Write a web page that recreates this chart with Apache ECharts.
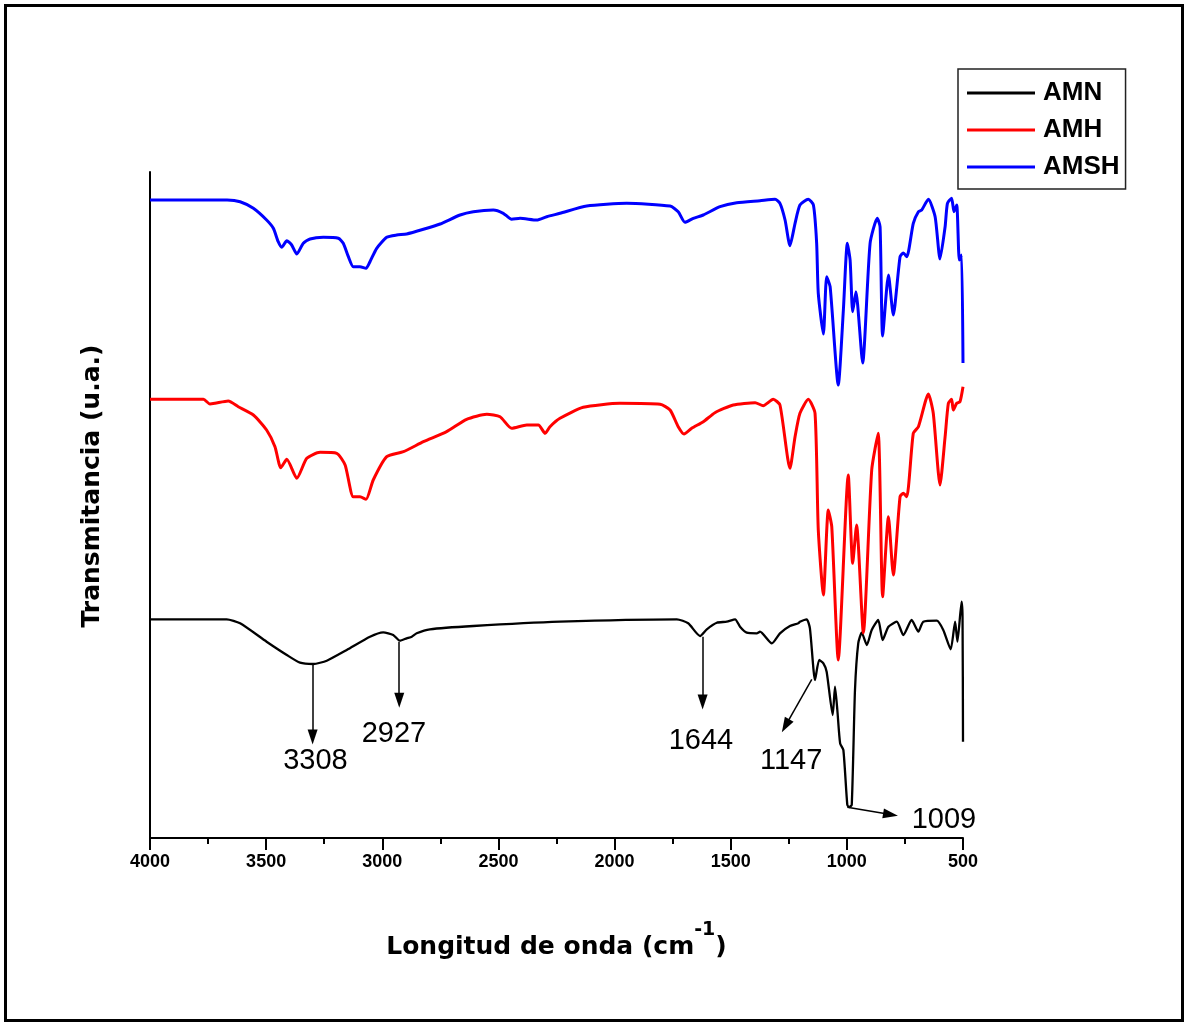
<!DOCTYPE html>
<html>
<head>
<meta charset="utf-8">
<script src="https://cdn.jsdelivr.net/npm/echarts@6.0.0/dist/echarts.min.js"></script>
<style>
  html, body { margin: 0; padding: 0; background: #fff; }
  #chart { width: 1188px; height: 1026px; }
</style>
</head>
<body>
<div id="chart"></div>
<script>
// ticks of the wavenumber axis (cm-1)
const xTicks = [500, 1000, 1500, 2000, 2500, 3000, 3500, 4000];
const seriesNames = ['AMN', 'AMH', 'AMSH'];

// spectra: [wavenumber, transmittance (arbitrary units, offset per sample)]
const amn = [
  [4000, 218.7], [3670, 218.7], [3612, 214.7], [3498, 196.3], [3411, 183], [3354, 175.3],
  [3297, 174], [3239, 177.3], [3153, 188], [3053, 201.3], [2996, 205.7], [2953, 203],
  [2924, 197.3], [2895, 199.7], [2873, 201.3], [2852, 204.7], [2795, 208.7], [2608, 212],
  [2235, 216.3], [1732, 218.7], [1683, 214.7], [1632, 202], [1603, 208.7], [1560, 215.3],
  [1517, 216.3], [1481, 218.7], [1460, 211.3], [1431, 205.3], [1388, 204.7], [1374, 206.3],
  [1323, 194.7], [1288, 204.7], [1245, 212], [1209, 214.7], [1202, 216.3], [1173, 218.7],
  [1159, 209.7], [1137, 158], [1119, 178], [1101, 174.7], [1087, 166.3], [1061, 123],
  [1051, 151.3], [1041, 128], [1029, 94.7], [1015, 88], [998, 33], [990, 31], [979, 33],
  [965, 148], [951, 194.7], [936, 205.3], [914, 193], [893, 208], [865, 218], [846, 198],
  [821, 211.3], [785, 216.3], [757, 203], [721, 218], [692, 206.3], [671, 216.3],
  [613, 217.3], [585, 208], [553, 188.7], [534, 216.3], [524, 196.3], [506, 236.3],
  [502, 221.3], [500, 96.3]
];
const amh = [
  [4000, 438.7], [3770, 438.7], [3742, 434], [3720, 434.7], [3663, 437], [3620, 431.3],
  [3555, 423], [3498, 408], [3462, 391.3], [3437, 370.3], [3411, 378.7], [3368, 359.7],
  [3325, 379.7], [3268, 385.7], [3196, 384.7], [3160, 373], [3125, 341.3], [3096, 341.3],
  [3070, 338.7], [3039, 358], [2981, 381.3], [2909, 386.3], [2823, 396.3], [2723, 406.3],
  [2637, 418.7], [2550, 423.7], [2493, 421.3], [2443, 409.7], [2378, 413], [2328, 413],
  [2299, 404.7], [2278, 411.3], [2235, 419.7], [2135, 430.7], [1977, 434.7], [1804, 433.7],
  [1761, 428], [1726, 411.3], [1701, 404], [1668, 409.7], [1618, 416.3], [1568, 425.3],
  [1489, 433], [1395, 435.3], [1360, 432.3], [1317, 438.7], [1288, 433], [1245, 369.7],
  [1223, 401.3], [1202, 424.7], [1166, 438.7], [1137, 424.7], [1123, 308], [1101, 243],
  [1080, 328], [1065, 311.3], [1037, 178], [994, 363], [975, 274.7], [958, 313], [929, 205],
  [893, 368], [865, 404.7], [846, 241.3], [821, 321.3], [800, 263], [771, 341.3],
  [757, 344.7], [742, 341.3], [714, 404.7], [692, 411.3], [649, 444], [628, 424.7],
  [599, 353], [577, 401.3], [563, 434.7], [549, 438.7], [542, 428], [527, 434.7],
  [513, 436.3], [500, 451.3]
];
const amsh = [
  [4000, 638], [3668, 638], [3612, 636.3], [3555, 629.7], [3498, 618], [3469, 609.7],
  [3448, 596.3], [3433, 590.7], [3411, 597.3], [3390, 593], [3368, 584], [3340, 594.7],
  [3311, 599], [3254, 600.7], [3189, 599.7], [3168, 594.7], [3146, 581.3], [3125, 571.3],
  [3096, 571.3], [3070, 569.7], [3053, 576.3], [3024, 589.7], [2981, 600.7], [2938, 603],
  [2895, 604], [2823, 608.7], [2751, 614], [2665, 623], [2608, 626.3], [2522, 628],
  [2479, 624.7], [2443, 618.7], [2407, 619.7], [2335, 618], [2292, 621.3], [2235, 624.7],
  [2120, 632], [1948, 634.7], [1761, 632], [1726, 626.3], [1697, 615.7], [1661, 619.7],
  [1618, 623], [1546, 631.3], [1474, 635.3], [1374, 637.3], [1309, 638.7], [1288, 634.7],
  [1266, 618], [1245, 592.3], [1223, 614.7], [1202, 633], [1166, 638.7], [1144, 633],
  [1130, 594.7], [1123, 544.7], [1101, 504], [1087, 561.3], [1072, 551.3], [1037, 453],
  [1015, 528], [998, 594.7], [986, 578], [975, 526.3], [961, 546.3], [932, 475],
  [900, 594.7], [869, 619.7], [857, 611.3], [846, 502], [821, 563], [800, 523],
  [771, 581.3], [757, 585], [742, 581.3], [714, 614.7], [692, 626.3], [678, 628],
  [649, 638.7], [620, 621.3], [599, 579], [577, 611.3], [567, 634.7], [549, 639.7],
  [539, 626.3], [527, 633], [516, 578], [506, 583], [500, 475]
];

// band labels on the AMN spectrum
const peakLabels = ['3308', '2927', '1644', '1147', '1009'];
const peakFrom = [[3300, 173], [2927, 196.3], [1621, 201.3], [1151, 158.7], [998, 30.7]];
const peakTo = [[3300, 101], [2927, 137.7], [1621, 136], [1264, 112.3], [812, 23.4]];
const peakText = [[3288, 77], [2950, 104], [1628, 97], [1240, 77], [582, 18]];

const colors = ['#000000', '#ff0000', '#0000ff'];
const spectra = [amn, amh, amsh];

let myChart = echarts.init(document.getElementById('chart'));

const series = spectra.map(function (d, i) {
  return {
    name: seriesNames[i],
    type: 'line',
    data: d,
    showSymbol: false,
    smooth: 0.2,
    lineStyle: { color: colors[i], width: i === 0 ? 2.3 : 3 },
    itemStyle: { color: colors[i] },
    z: 2 + i
  };
});

// arrows and numbers go on the AMN curve
series[0].markLine = {
  silent: true,
  symbol: ['none', 'triangle'],
  symbolSize: [10, 15],
  lineStyle: { color: '#000', width: 1.5, type: 'solid' },
  label: { show: false },
  data: peakFrom.map(function (f, i) {
    return [{ coord: f }, { coord: peakTo[i] }];
  })
};
series[0].markPoint = {
  silent: true,
  symbol: 'circle',
  symbolSize: 0,
  label: {
    show: true,
    position: 'inside',
    formatter: function (p) { return p.name; },
    fontFamily: '"Liberation Sans", Arial, sans-serif',
    fontSize: 29,
    color: '#000'
  },
  data: peakLabels.map(function (t, i) {
    return { name: t, coord: peakText[i] };
  })
};

myChart.setOption({
  animation: false,
  backgroundColor: '#fff',
  grid: { left: 150, right: 225, top: 172, bottom: 188 },
  legend: {
    data: seriesNames,
    orient: 'vertical',
    left: 958,
    top: 69,
    icon: 'rect',
    itemWidth: 68,
    itemHeight: 3,
    itemGap: 11,
    padding: [11, 6, 9, 9],
    borderColor: '#222',
    borderWidth: 1.5,
    textStyle: {
      fontFamily: '"Liberation Sans", Arial, sans-serif',
      fontWeight: 'bold',
      fontSize: 26,
      lineHeight: 26,
      color: '#000',
      padding: [0, 0, 0, 3]
    }
  },
  xAxis: {
    type: 'value',
    inverse: true,
    min: xTicks[0],
    max: xTicks[xTicks.length - 1],
    interval: 500,
    axisLine: { onZero: false, lineStyle: { color: '#000', width: 2 } },
    axisTick: { length: 12, lineStyle: { color: '#000', width: 2 } },
    minorTick: { show: true, splitNumber: 2, length: 6, lineStyle: { color: '#000', width: 2 } },
    splitLine: { show: false },
    axisLabel: {
      margin: 15,
      formatter: function (v) { return String(v); },
      fontFamily: '"Liberation Sans Narrow", "Liberation Sans", Arial, sans-serif',
      fontWeight: 'bold',
      fontSize: 18,
      color: '#000'
    },
    name: '{a|Longitud de onda (cm}{s|-1}{a|)}',
    nameLocation: 'middle',
    nameGap: 83,
    nameTextStyle: {
      rich: {
        a: {
          fontFamily: '"DejaVu Sans", sans-serif', fontWeight: 'bold', fontSize: 25,
          color: '#000', lineHeight: 30, verticalAlign: 'bottom'
        },
        s: {
          fontFamily: '"DejaVu Sans", sans-serif', fontWeight: 'bold', fontSize: 19,
          color: '#000', lineHeight: 39, verticalAlign: 'top'
        }
      }
    }
  },
  yAxis: {
    type: 'value',
    min: 0,
    max: 666,
    axisLine: { show: true, lineStyle: { color: '#000', width: 2 } },
    axisTick: { show: false },
    axisLabel: { show: false },
    splitLine: { show: false }
  },
  graphic: [
    {
      type: 'rect',
      silent: true,
      shape: { x: 5.5, y: 5.5, width: 1177, height: 1015 },
      style: { fill: 'none', stroke: '#000', lineWidth: 3 }
    },
    {
      type: 'text',
      silent: true,
      x: 92,
      y: 486,
      rotation: Math.PI / 2,
      style: {
        text: 'Transmitancia (u.a.)',
        fontFamily: '"DejaVu Sans", sans-serif',
        fontWeight: 'bold',
        fontSize: 25,
        fill: '#000',
        align: 'center',
        verticalAlign: 'middle'
      }
    }
  ],
  series: series
});

window.addEventListener('resize', function () {
  myChart.resize();
});
</script>
</body>
</html>
